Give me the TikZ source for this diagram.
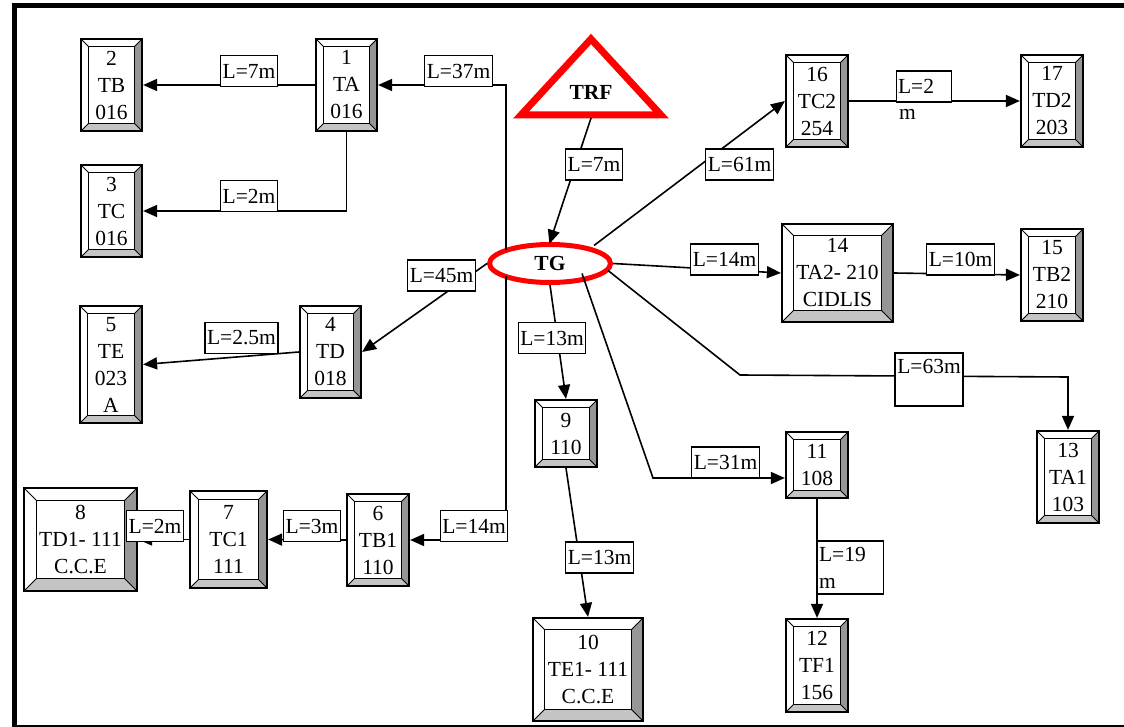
\documentclass[tikz,border=0pt]{standalone}
\usepackage{fontspec}
\setmainfont{Liberation Serif}
\usetikzlibrary{shapes.geometric,arrows.meta,calc}
\newcommand\diagfont{\fontsize{21.5}{27}\selectfont}
\definecolor{bevlight}{HTML}{C4C4C4}
\definecolor{bevdark}{HTML}{969696}
\tikzset{
  bevel/.code={\def\bevw{#1}},
  bx/.style={draw, line width=1.7pt, fill=white, inner sep=0pt, align=center,
    font=\diagfont, bevel=8pt,
    path picture={
      \coordinate (bvsw) at (path picture bounding box.south west);
      \coordinate (bvse) at (path picture bounding box.south east);
      \coordinate (bvnw) at (path picture bounding box.north west);
      \coordinate (bvne) at (path picture bounding box.north east);
      \coordinate (bvisw) at ([shift={(\bevw,\bevw)}]bvsw);
      \coordinate (bvise) at ([shift={(-\bevw,\bevw)}]bvse);
      \coordinate (bvinw) at ([shift={(\bevw,-\bevw)}]bvnw);
      \coordinate (bvine) at ([shift={(-\bevw,-\bevw)}]bvne);
      \fill[bevlight] (bvsw) -- (bvse) -- (bvise) -- (bvisw) -- cycle;
      \fill[bevdark] (bvse) -- (bvne) -- (bvine) -- (bvise) -- cycle;
      \draw[line width=1.4pt] (bvisw) rectangle (bvine);
      \draw[line width=1pt] (bvsw) -- (bvisw) (bvse) -- (bvise) (bvne) -- (bvine) (bvnw) -- (bvinw);
    }},
  lbl/.style={draw, line width=1.3pt, fill=white, inner xsep=2pt, inner ysep=0pt,
    minimum height=31pt, font=\diagfont},
  con/.style={line width=1.6pt, -{Triangle[length=14pt,width=12pt]}},
}
\begin{document}
\begin{tikzpicture}[x=1pt,y=-1pt]
\useasboundingbox (0,0) rectangle (1124,727);
% frame
\draw[line width=5pt] (14.5,727) -- (14.5,5.5) -- (1124,5.5);
\draw[line width=1.5pt] (14.5,726) -- (1124,726);

% boxes
\node[bx, minimum width=61.5pt, minimum height=92.5pt] (b1) at (346.5,85) {1\\TA\\016};
\node[bx, minimum width=61.5pt, minimum height=92.5pt] (b2) at (111.5,85) {2\\TB\\016};
\node[bx, minimum width=61.5pt, minimum height=92.5pt] (b3) at (111.5,211) {3\\TC\\016};
\node[bx, minimum width=61.5pt, minimum height=92.5pt] (b4) at (330.5,352) {4\\TD\\018};
\node[bx, minimum width=62.5pt, minimum height=117.5pt] (b5) at (111,364.5) {5\\TE\\023\\A};
\node[bx, minimum width=62.5pt, minimum height=92.5pt] (b6) at (378,540) {6\\TB1\\110};
\node[bx, bevel=9pt, minimum width=77.5pt, minimum height=97.5pt] (b7) at (228.5,539.5) {7\\TC1\\111};
\node[bx, bevel=13pt, minimum width=113.5pt, minimum height=103.5pt] (b8) at (80.5,539.5) {8\\TD1- 111\\C.C.E};
\node[bx, minimum width=62.5pt, minimum height=67.5pt] (b9) at (566,433.5) {9\\110};
\node[bx, bevel=12pt, minimum width=110.5pt, minimum height=103.5pt] (b10) at (588,669.5) {10\\TE1- 111\\C.C.E};
\node[bx, minimum width=62.5pt, minimum height=66.5pt] (b11) at (817,465) {11\\108};
\node[bx, minimum width=62.5pt, minimum height=93.5pt] (b12) at (817,665.5) {12\\TF1\\156};
\node[bx, minimum width=62.5pt, minimum height=92.5pt] (b13) at (1068,477) {13\\TA1\\103};
\node[bx, bevel=12pt, minimum width=111.5pt, minimum height=98.5pt] (b14) at (837.5,273) {14\\TA2- 210\\CIDLIS};
\node[bx, minimum width=62.5pt, minimum height=92.5pt] (b15) at (1052,275) {15\\TB2\\210};
\node[bx, minimum width=62.5pt, minimum height=92.5pt] (b16) at (817,101) {16\\TC2\\254};
\node[bx, minimum width=62.5pt, minimum height=92.5pt] (b17) at (1052,101) {17\\TD2\\203};

% TRF and TG
\draw[red, line width=7pt, line join=miter] (591,39) -- (661,115) -- (521,115) -- cycle;
\node[font=\diagfont\bfseries] (TRF) at (591,92) {TRF};
\coordinate (trfb) at (591,118);
\node[ellipse, draw=red, line width=5pt, fill=white, minimum width=121pt, minimum height=38pt,
      inner sep=0pt, font=\diagfont\bfseries] (TG) at (550,263.5) {TG};

% connectors
\draw[con, shorten >=-2pt] (trfb) -- (TG.north);
\draw[con] ($(TG.center)+(-44,-13)$) |- (b1.east);
\draw[con] ($(TG.center)+(-44,13)$) |- (b6.east);
\draw[con] (TG.west) -- (b4.east);
\draw[con] (TG.south) -- (b9.north);
\coordinate (k11) at (653,478);
\draw[con] ($(TG.center)+(32,10)$) -- (k11) -- (k11 -| b11.west);
\draw[con] ($(TG.center)+(58,7)$) -- (740,375) -- (1068,377) -- (b13.north);
\draw[con] (TG.east) -- (b14.west);
\draw[con] ($(TG.center)+(44,-18)$) -- (b16.west);
\draw[con] (b1.west) -- (b2.east);
\draw[con] (b1.south) |- (b3.east);
\draw[con] (b4.west) -- (b5.east);
\draw[con] (b6.west) -- (b7.east);
\draw[con] (b7.west) -- (b8.east);
\draw[con] (b9.south) -- (b10.north);
\draw[con] (b11.south) -- (b12.north);
\draw[con] (b14.east) -- (b15.west);
\draw[con] (b16.east) -- (b17.west);

% labels
\node[lbl] (l12) at (249,71) {L=7m};
\node[lbl] (l13) at (249,196) {L=2m};
\node[lbl] (lg1) at (458.5,71) {L=37m};
\node[lbl] (ltg) at (594,164.5) {L=7m};
\node[lbl] (lg4) at (441.5,275.5) {L=45m};
\node[lbl] (l45) at (241.5,338) {L=2.5m};
\node[lbl] (lg6) at (474,526) {L=14m};
\node[lbl] (l67) at (312,526) {L=3m};
\node[lbl] (l78) at (155,526) {L=2m};
\node[lbl] (lg9) at (552,338) {L=13m};
\node[lbl] (l910) at (599.5,557.5) {L=13m};
\node[lbl] (lg11) at (725.5,462.5) {L=31m};
\node[lbl, text width=63pt, align=left, minimum height=53pt, inner xsep=1.5pt] (l1112) at (850.5,567.5) {L=19\\m};
\node[lbl, minimum width=68pt, minimum height=53pt, align=left] (lg13) at (929,379.5) {L=63m\\~};
\node[lbl] (lg14) at (724.5,259.5) {L=14m};
\node[lbl] (l1415) at (960.5,259.5) {L=10m};
\node[lbl] (lg16) at (739.5,164.5) {L=61m};
\node[lbl, text width=52pt, align=left, inner xsep=1.5pt,
      label={[anchor=base west, inner sep=0pt, font=\diagfont, xshift=3pt, yshift=-17pt]south west:m}] (l1617) at (924,86.5) {L=2};
\end{tikzpicture}
\end{document}
